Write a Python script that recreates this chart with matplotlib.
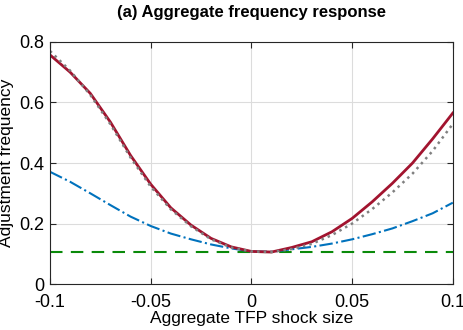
import matplotlib
matplotlib.use("Agg")
import matplotlib.pyplot as plt
import numpy as np

plt.rcParams['font.family'] = ['Liberation Sans', 'DejaVu Sans']

shock = np.round(np.arange(-0.10, 0.1001, 0.01), 2)

# full model (solid red)
freq_full = [0.757, 0.700, 0.630, 0.535, 0.425, 0.330, 0.252, 0.195, 0.151, 0.123, 0.108,
             0.106, 0.121, 0.140, 0.173, 0.217, 0.272, 0.333, 0.400, 0.480, 0.565]
# approximation (gray dotted)
freq_approx = [0.770, 0.705, 0.625, 0.528, 0.418, 0.322, 0.247, 0.191, 0.148, 0.121, 0.108,
               0.106, 0.116, 0.133, 0.162, 0.200, 0.248, 0.303, 0.365, 0.440, 0.529]
# blue dash-dot
freq_blue = [0.371, 0.338, 0.300, 0.261, 0.223, 0.192, 0.167, 0.148, 0.131, 0.118, 0.108,
             0.107, 0.115, 0.123, 0.134, 0.148, 0.165, 0.184, 0.208, 0.234, 0.269]
# steady state (green dashed)
freq_ss = [0.107] * len(shock)

fig = plt.figure(figsize=(4.63, 3.30), dpi=100)
ax = fig.add_axes([0.108, 0.139, 0.870, 0.734])

ax.plot(shock, freq_ss, '--', color='#0a8a0a', lw=1.5, dashes=(6, 4))
ax.plot(shock, freq_blue, '-.', color='#0072BD', lw=1.5)
ax.plot(shock, freq_full, '-', color='#A2142F', lw=2.0)
ax.plot(shock, freq_approx, ':', color='#808080', lw=1.8)

ax.set_xlim(-0.1, 0.1)
ax.set_ylim(0, 0.8)
ax.set_xticks([-0.1, -0.05, 0, 0.05, 0.1])
ax.set_xticklabels(['-0.1', '-0.05', '0', '0.05', '0.1'])
ax.set_yticks([0, 0.2, 0.4, 0.6, 0.8])
ax.set_yticklabels(['0', '0.2', '0.4', '0.6', '0.8'])
ax.grid(True, color='#dcdcdc', lw=0.8)
ax.set_axisbelow(True)
ax.tick_params(direction='in', top=True, right=True, labelsize=13, length=4, color='#262626')
ax.tick_params(axis='x', pad=7)
ax.tick_params(axis='y', pad=4)
for s in ax.spines.values():
    s.set_color('#262626')
    s.set_linewidth(0.8)

ax.set_xlabel('Aggregate TFP shock size', fontsize=12.5, labelpad=0)
ax.set_ylabel('Adjustment frequency', fontsize=12.5, labelpad=4)
ax.set_title('(a) Aggregate frequency response', fontsize=12, fontweight='bold', pad=18)

fig.savefig('out.png', dpi=100)
